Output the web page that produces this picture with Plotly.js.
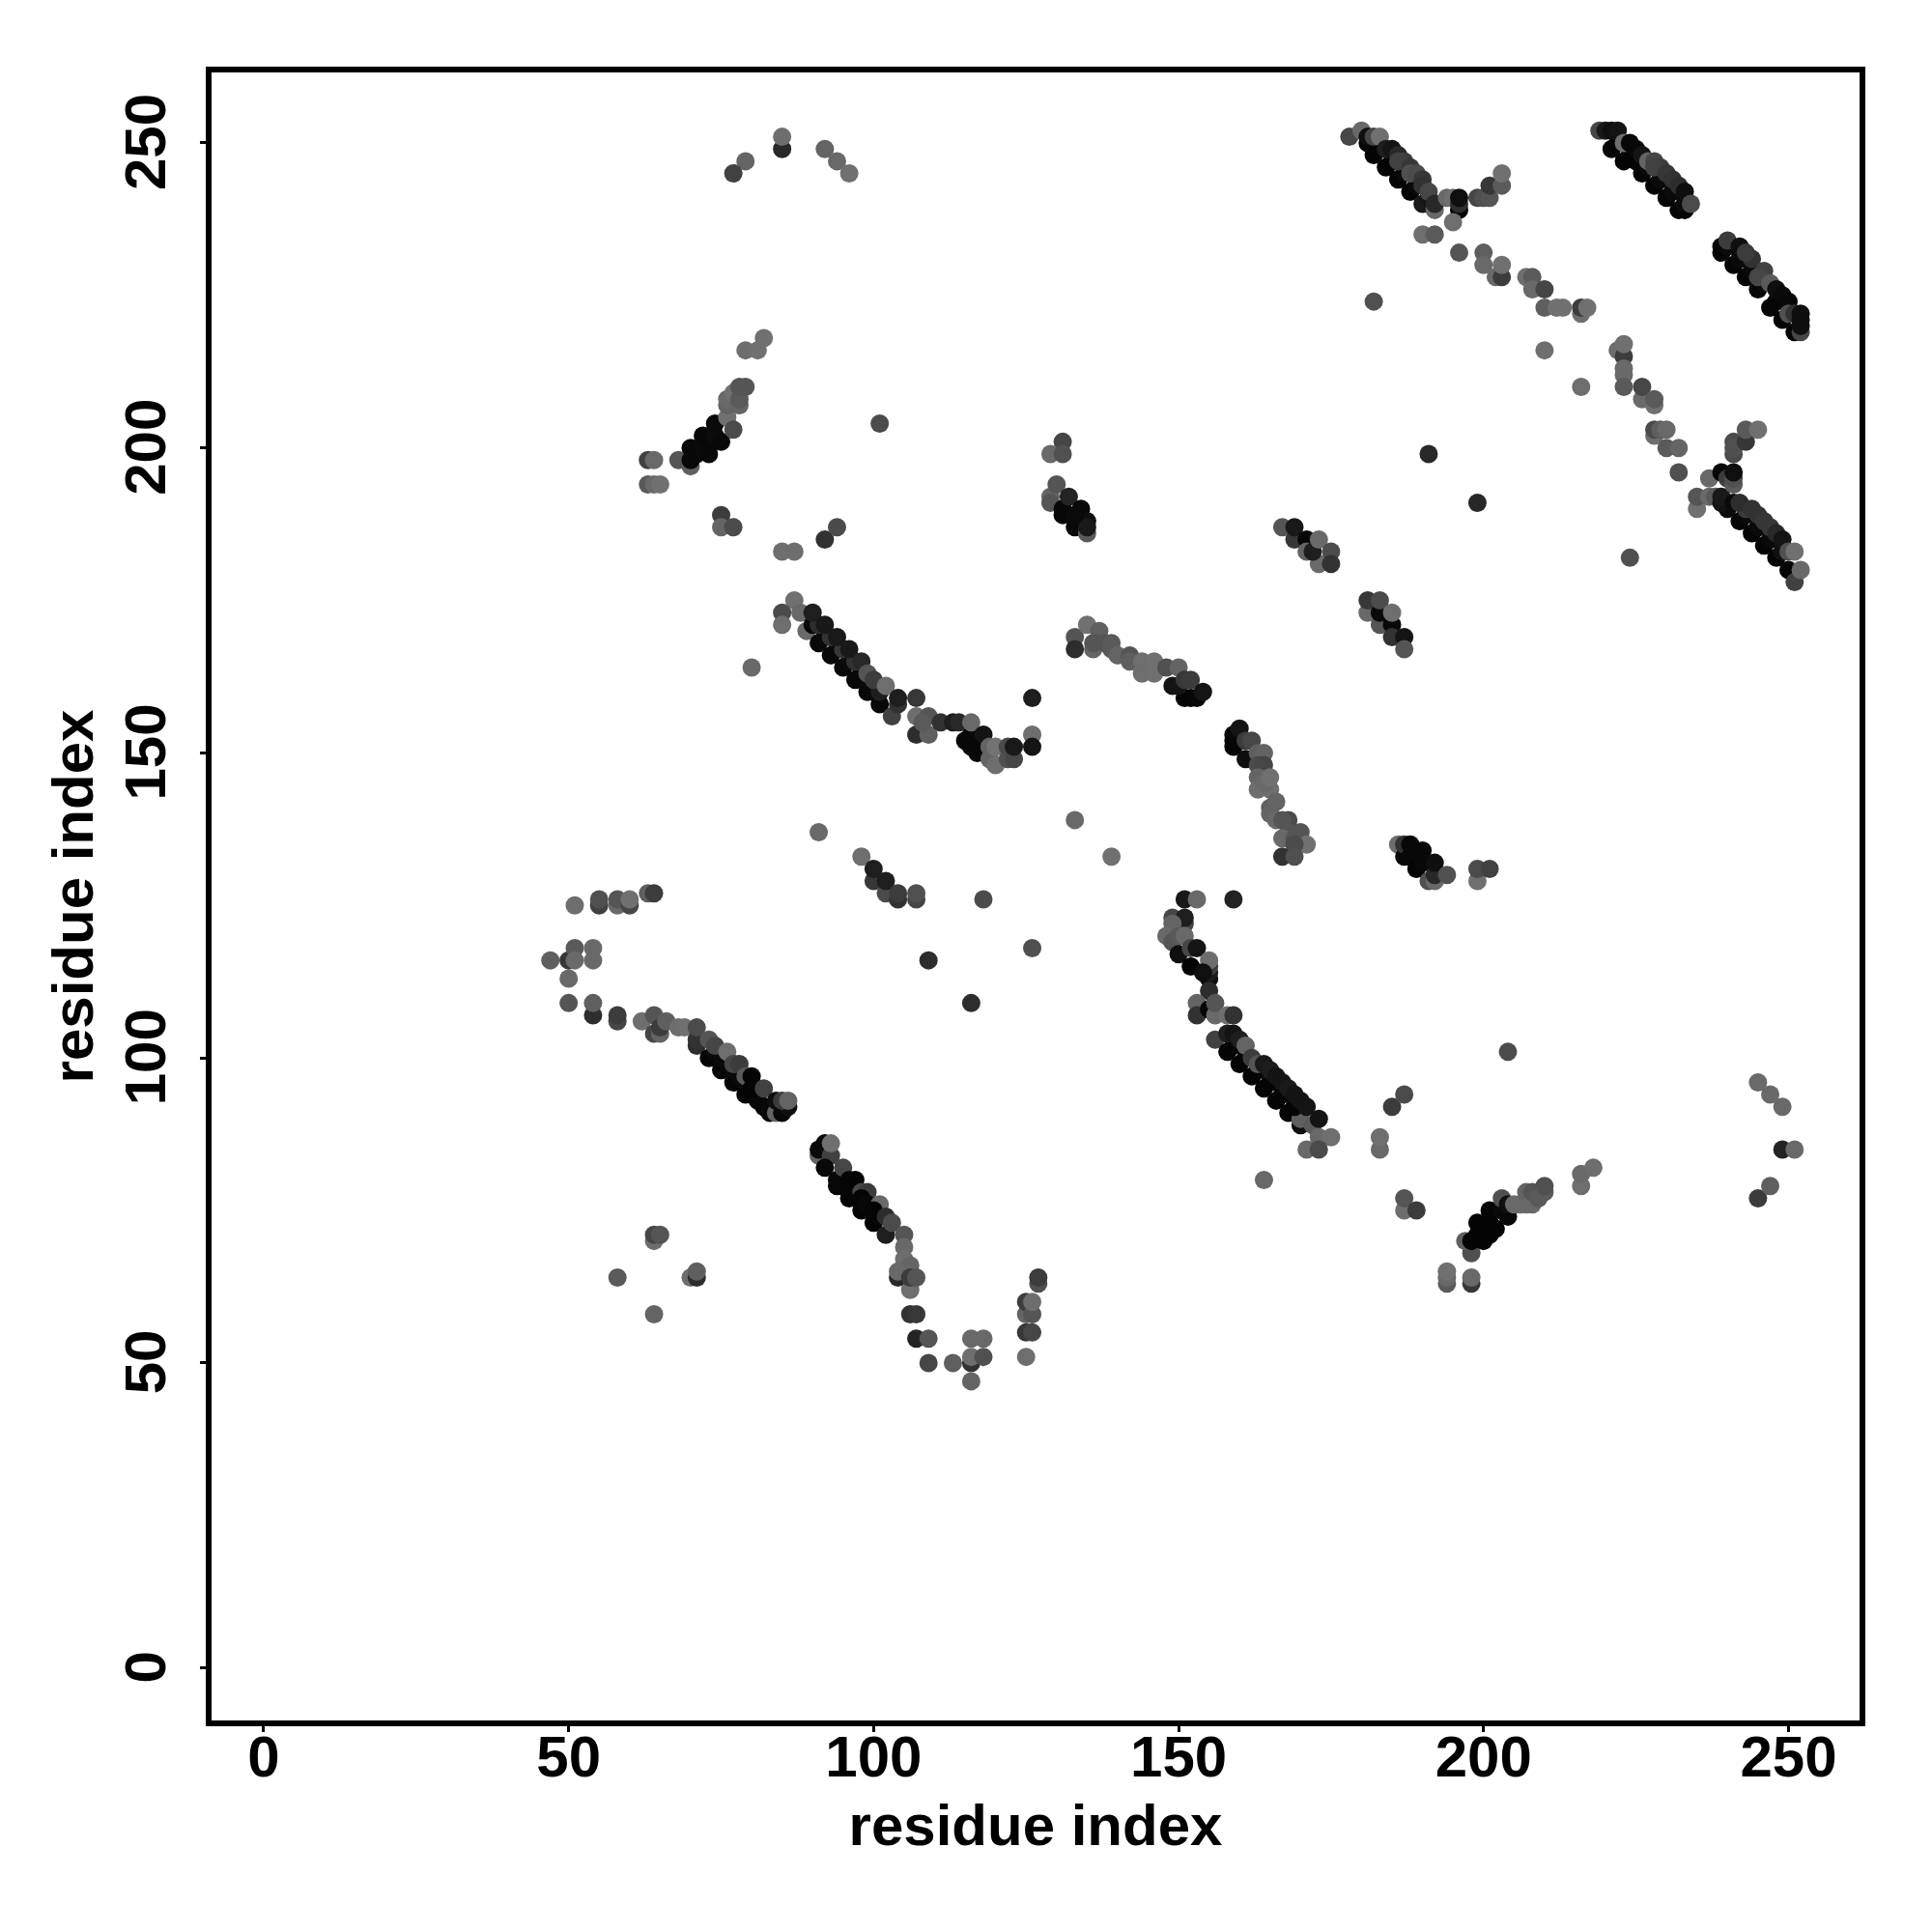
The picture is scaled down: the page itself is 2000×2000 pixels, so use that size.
<!DOCTYPE html>
<html><head><meta charset="utf-8">
<script src="https://cdn.plot.ly/plotly-3.0.1.min.js"></script>
<style>html,body{margin:0;padding:0;background:#fff}</style></head>
<body><div id="chart" style="width:2000px;height:2000px"></div>
<script>
// Each contact: [residue x, residue y, grey level]
const topArc=[[85,249,40],[85,251,110],[79,247,100],[77,245,65],[92,249,100],[94,247,105],[96,245,112]];
const helix200=[[82,218,112],[79,216,110],[81,216,112],[63,198,65],[64,198,105],[63,194,90],[64,194,105],[65,194,112],[68,198,85],[70,197,95],
[70,198,8],[70,200,8],[71,199,8],[72,200,10],[72,202,8],[73,201,8],[73,199,8],[74,202,12],[74,204,10],[75,201,8],[76,205,112],[76,207,100],[76,208,105],[77,209,112],[78,207,100],[78,208,90],[77,203,75],[78,210,85],[79,210,85],
[75,189,60],[75,187,100],[77,187,75],[85,183,110],[87,183,110],[92,185,50],[94,187,75],[101,204,75]];
const band170=[[87,175,112],[85,173,75],[85,171,110],[88,173,105],[89,170,105],[91,168,8],[93,166,8],[95,164,8],[97,162,8],[99,160,8],[101,158,8],[90,171,8],[92,169,10],[94,167,8],[96,165,10],[98,163,8],[100,160,10],[91,171,45],[93,169,50],[95,167,55],[97,165,50],[99,162,10],[101,160,30],
[90,173,30],[92,171,25],[94,169,25],[96,167,25],[98,165,40],[99,163,85],[100,162,60],[102,161,110],[103,156,65],[104,158,50],[104,159,30],[80,164,105]];
const band155=[[107,159,55],[107,156,110],[107,153,45],[109,153,95],[109,156,85],[108,155,90],[111,155,50],[113,155,30],[114,155,40],[115,152,8],[117,150,8],[116,153,8],[118,151,8],[116,155,105],[118,153,20],[116,151,8],[119,149,100],[120,148,110],[119,151,100],[120,151,115],[122,149,80],[122,151,75],[123,149,70],[123,151,25],[126,159,30],[126,153,110],[126,151,20]];
const band165=[[133,169,85],[133,167,45],[135,171,112],[136,167,100],[137,170,95],[136,168,85],[138,168,85],[139,168,90],[139,167,90],[140,166,100],[142,166,85],[142,165,95],[144,165,110],[144,163,110],[146,165,112],[146,163,112],[148,164,80],[149,161,20],[151,159,8],[152,159,5],[153,159,8],[150,161,20],[150,164,100],[151,162,55],[152,162,60],[154,160,20]];
const helix190=[[131,201,70],[129,199,105],[131,199,80],[129,192,100],[129,191,85],[130,194,85],[131,190,8],[131,189,8],[133,187,8],[135,186,90],[132,192,35],[134,190,8],[135,188,15],[135,187,25],[133,189,10]];
const patch185=[[167,187,85],[169,185,55],[169,187,25],[171,185,8],[171,183,100],[173,181,105],[172,183,30],[173,185,105],[175,183,75],[175,181,50]];
const patch172=[[181,173,105],[181,175,55],[183,171,85],[183,173,10],[183,175,75],[185,171,8],[185,169,50],[185,173,110],[187,169,20],[187,167,85]];
const bandTop1=[[178,251,70],[180,252,105],[181,250,5],[182,248,5],[184,246,5],[186,244,5],[188,242,5],[190,240,25],[183,249,5],[185,247,5],[187,245,10],[189,243,10],[191,241,20],[181,251,15],[182,251,70],[183,251,112],[184,249,30],[185,249,20],[186,248,40],[187,247,60],[186,247,65],[188,246,55],[188,245,80],[189,245,75],[190,244,55],[190,243,50],[191,242,70],[192,239,105],[192,240,40]];
const knot240=[[194,241,105],[195,241,112],[196,239,5],[196,240,45],[196,241,15],[195,237,110],[190,235,110],[192,235,90],[196,232,85],[199,241,70],[200,241,80],[201,241,85],[201,243,55],[203,243,90],[203,245,112]];
const chain225=[[200,232,95],[200,230,105],[202,228,105],[203,228,60],[203,230,112],[207,228,110],[208,228,90],[208,226,105],[210,226,70],[210,223,95],[212,223,112],[213,223,112],[216,222,110],[216,223,60],[217,223,112],[210,216,110],[216,210,110]];
const chain210=[[222,216,110],[223,215,60],[223,217,112],[223,213,105],[223,212,105],[223,210,90],[226,208,105],[226,210,70],[228,207,112],[228,208,90],[228,202,110],[228,203,75],[229,203,95],[230,203,105],[230,200,90],[232,200,100],[232,196,80],[237,195,105],[235,190,112],[235,192,85]];
const bandTop2=[[219,252,70],[221,249,5],[223,247,5],[226,245,5],[228,243,5],[230,241,5],[232,239,5],[233,239,5],[222,250,5],[224,248,5],[225,247,5],[227,246,10],[229,244,10],[231,242,10],[233,240,10],[220,252,25],[221,252,15],[222,252,20],[223,250,110],[224,250,8],[225,249,8],[226,248,20],[227,247,100],[228,247,70],[229,246,60],[228,246,65],[230,245,55],[231,244,50],[232,243,45],[233,242,15],[234,240,75]];
const bandTop3=[[239,232,8],[239,233,5],[241,230,5],[243,228,5],[245,226,5],[240,233,10],[242,231,10],[244,229,10],[246,227,10],[248,224,8],[240,234,60],[242,233,15],[244,231,50],[243,232,60],[246,229,65],[245,228,70],[247,227,90],[248,226,15],[249,225,10],[247,223,5],[249,221,5],[250,224,8],[251,219,5],[250,222,80],[251,222,50],[252,219,70],[252,220,15],[252,221,15],[252,222,15]];
const band185=[[241,201,75],[241,199,75],[241,200,80],[243,201,55],[243,203,90],[245,203,112],[237,192,105],[238,192,90],[239,196,8],[240,195,60],[240,190,10],[239,191,20],[239,192,25],[241,194,90],[241,195,80],[241,196,15],[242,188,5],[244,186,5],[246,184,5],[248,182,5],[250,180,5],[241,191,10],[243,189,10],[245,187,10],[247,185,10],[249,183,15],[243,190,60],[242,191,45],[244,190,50],[245,189,50],[246,188,55],[247,187,55],[248,186,40],[249,185,20],[250,183,80],[251,183,112],[251,178,65],[252,180,105],[224,182,80],[191,199,40],[199,191,40],[182,224,80]];
const band145=[[159,151,5],[159,152,5],[159,153,8],[160,154,20],[161,149,15],[161,152,60],[162,152,70],[163,150,95],[164,150,100],[163,148,75],[164,148,70],[163,146,100],[163,144,110],[165,144,110],[164,145,105],[165,146,112],[165,141,95],[166,142,100],[165,140,100],[166,139,105],[168,139,75],[167,139,85],[168,137,85],[170,137,85],[167,136,105],[169,136,85],[171,135,112],[169,135,75],[167,133,50],[169,133,80]];
const patch133=[[186,135,110],[187,133,10],[187,135,50],[188,133,8],[188,135,8],[189,131,5],[190,132,8],[191,129,80],[192,129,105],[190,134,8],[192,130,40],[192,132,15],[194,130,80],[199,129,112],[199,131,75],[201,131,65]];
const helix128=[[91,137,105],[98,133,110],[100,129,55],[100,131,30],[102,127,75],[102,129,30],[104,126,50],[104,127,60],[107,126,70],[107,127,80],[133,139,105],[139,133,112],[118,126,75],[126,118,80],[109,116,45],[116,109,45]];
const band118=[[51,125,110],[55,125,65],[55,126,80],[58,125,105],[58,126,85],[60,125,70],[60,126,112],[63,127,95],[64,127,60],[47,116,95],[50,116,55],[51,118,90],[51,116,105],[54,118,105],[54,116,105],[50,113,105],[50,109,85],[54,107,45],[54,109,95],[58,106,70],[58,107,60]];
const band100=[[62,106,110],[64,104,70],[65,104,100],[64,107,85],[65,105,60],[66,106,95],[68,105,110],[69,105,112],[71,102,45],[71,103,50],[71,105,75],[73,100,5],[75,98,5],[77,96,5],[79,94,5],[82,92,5],[83,91,8],[84,91,100],[85,91,8],[74,101,10],[75,100,10],[76,99,10],[77,98,10],[78,97,10],[79,96,10],[81,93,8],[81,95,10],
[73,103,85],[74,102,70],[76,101,110],[77,99,70],[78,99,60],[79,97,90],[80,97,5],[80,95,5],[82,95,65],[84,93,15],[86,92,15],[85,93,60],[86,93,100]];
const band80=[[91,84,100],[91,85,10],[92,86,10],[93,84,65],[93,86,112],[92,82,8],[94,79,8],[94,80,8],[96,77,5],[98,75,5],[100,73,5],[102,71,30],[95,82,70],[96,80,5],[97,80,5],[96,78,5],[98,78,70],[99,78,60],[98,77,5],[99,76,8],[101,74,8],[101,76,105],[100,75,5],[102,74,45],[103,73,75],[105,71,85],[105,69,105],[105,67,110],[106,66,100],[104,64,40],[104,65,105],[106,62,110],[106,64,60],[107,64,85],[106,58,50],[107,58,55]];
const band50=[[107,54,35],[109,54,85],[109,50,70],[113,50,95],[116,50,50],[116,51,110],[116,54,105],[118,54,105],[118,51,80],[116,47,100],[125,51,110],[125,55,55],[126,55,70],[125,58,100],[125,60,60],[126,58,85],[126,60,110],[127,63,80],[127,64,60],[64,70,110],[64,71,70],[65,71,85],[58,64,90],[70,64,110],[71,64,45],[71,65,95],[64,58,100]];
const band103=[[151,126,25],[153,126,105],[159,126,35],[149,123,70],[151,122,70],[151,123,30],[149,122,100],[148,120,105],[149,119,85],[150,120,90],[151,120,105],[150,117,15],[152,115,5],[152,118,70],[153,118,20],[155,113,15],[155,114,30],[155,115,60],[155,116,110],[154,114,15],[155,111,45],[153,109,100],[153,107,50],[155,108,5],[156,107,105],[156,109,85],[158,107,110],[159,107,50]];
const band92=[[156,103,65],[158,101,5],[160,99,5],[162,97,5],[164,95,5],[166,93,5],[168,91,5],[170,89,15],[170,90,95],[159,102,5],[161,100,5],[163,98,5],[165,96,5],[167,94,5],[169,92,5],[158,104,30],[159,104,20],[160,103,30],[161,102,100],[162,100,60],[163,99,85],[164,99,25],[165,98,30],[166,97,20],[167,96,20],[168,95,25],[169,94,20],[170,93,20],[171,92,20],[172,89,90],[173,90,20],[173,87,105],[175,87,110],[171,85,105],[173,85,75],[164,80,105],[185,92,60],[187,94,75],[183,85,105],[183,87,110],[204,101,75]];
const band72=[[187,75,110],[187,77,85],[189,75,60],[194,63,90],[194,64,105],[194,65,112],[198,63,55],[198,64,105],[198,68,80],[197,70,95],[198,70,5],[200,70,5],[199,71,5],[199,73,5],[201,71,5],[201,73,5],[202,72,5],[201,75,5],[203,75,10],[203,77,80],[204,74,8],[204,76,15],[205,76,105],[206,76,105],[207,76,105],[207,78,100],[208,76,105],[208,78,85],[209,77,90],[210,78,90],[210,79,80],[216,79,110],[216,81,105],[218,82,110],[245,77,60],[247,79,95],[245,96,105],[247,94,105],[249,92,105],[249,85,35],[251,85,105]];

const contacts=[].concat(topArc,helix200,band170,band155,band165,helix190,patch185,patch172,bandTop1,knot240,chain225,chain210,bandTop2,bandTop3,band185,band145,patch133,helix128,band118,band100,band80,band50,band103,band92,band72);
const tickValues=[0,50,100,150,200,250];
const font={family:'"Liberation Sans",Arial,sans-serif',size:60,color:'#000',weight:700};
const axisBase={tickvals:tickValues,ticktext:tickValues.map(String),ticks:'outside',ticklen:6,tickwidth:3,tickcolor:'#000',showline:true,linewidth:6,linecolor:'#000',mirror:true,showgrid:false,zeroline:false,tickfont:font};
Plotly.newPlot('chart',[{type:'scatter',mode:'markers',x:contacts.map(c=>c[0]),y:contacts.map(c=>c[1]),
 marker:{size:19,line:{width:0},color:contacts.map(c=>`rgb(${c[2]},${c[2]},${c[2]})`)},hoverinfo:'x+y'}],
{width:2000,height:2000,showlegend:false,paper_bgcolor:'#fff',plot_bgcolor:'#fff',
 margin:{l:219,r:75,t:75,b:219,pad:0},
 xaxis:{...axisBase,range:[-8.55,261.65],ticklabelstandoff:-26,title:{text:'residue index',font:font,standoff:19}},
 yaxis:{...axisBase,range:[-8.6,261.55],tickangle:-90,ticklabelstandoff:12,ticklabelshift:8,title:{text:'residue index',font:font,standoff:3}}
},{displayModeBar:false,staticPlot:true});
</script></body></html>
